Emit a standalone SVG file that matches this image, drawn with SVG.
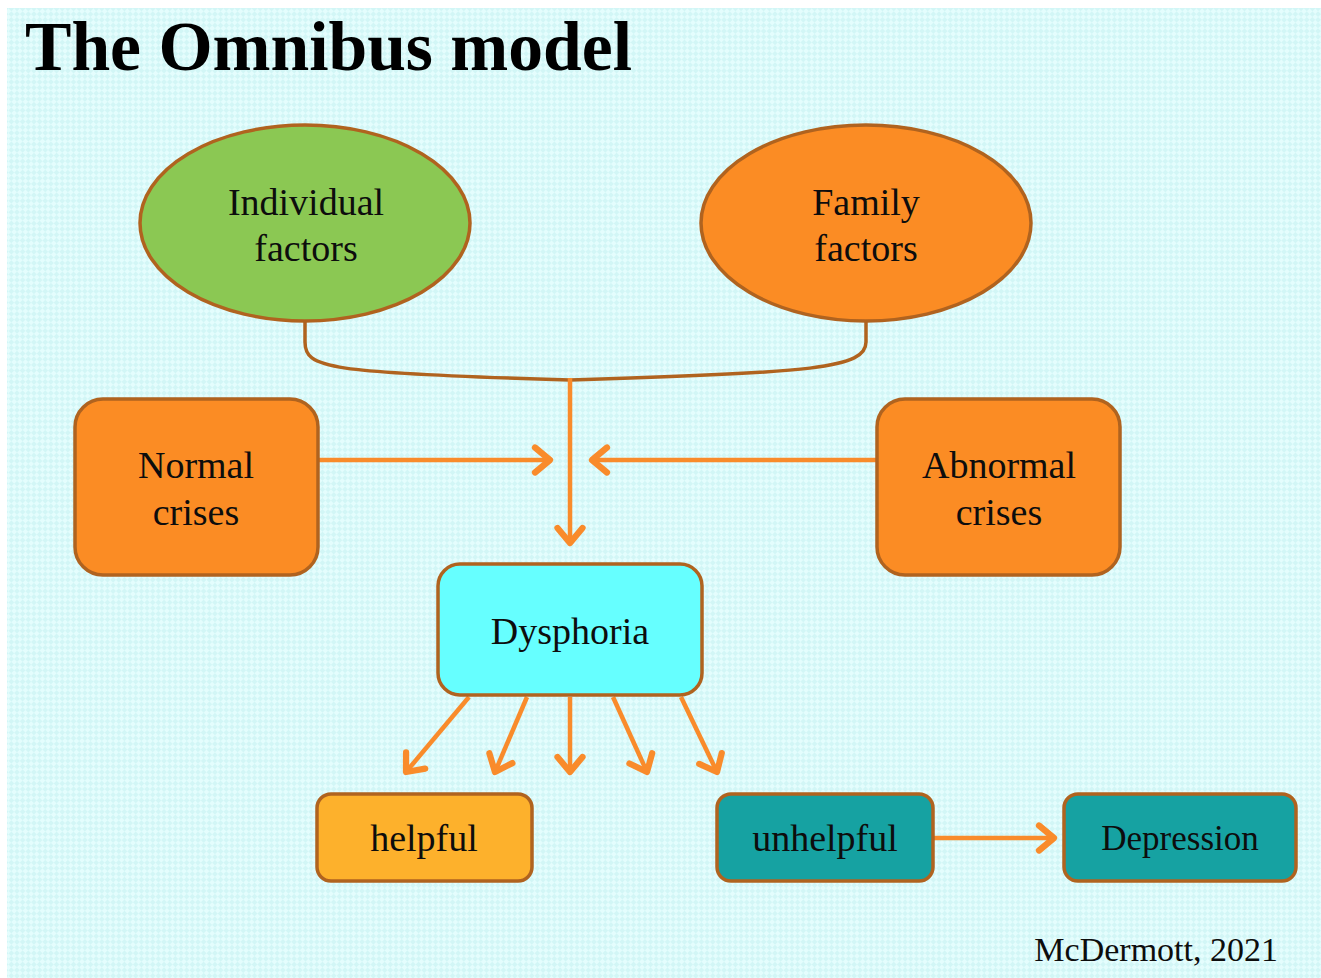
<svg xmlns="http://www.w3.org/2000/svg" width="1321" height="978" viewBox="0 0 1321 978">
  <defs>
    <pattern id="chk" width="8" height="8" patternUnits="userSpaceOnUse" patternTransform="rotate(45)">
      <rect width="8" height="8" fill="#e4fdfd"/>
      <rect width="4" height="4" fill="#d2f6f6"/>
      <rect x="4" y="4" width="4" height="4" fill="#d2f6f6"/>
    </pattern>
    <marker id="arr" markerUnits="userSpaceOnUse" markerWidth="30" markerHeight="30" refX="0" refY="0" viewBox="-16 -12 20 24" orient="auto" overflow="visible">
      <path d="M-12,-10 L0,0 L-12,10" fill="none" stroke="#f98b2b" stroke-width="5" stroke-linecap="round" stroke-linejoin="round"/>
    </marker>
    <style>
      .node { stroke: #b0631f; stroke-width: 3.5; }
      .lbl { font-family: "Liberation Serif", "Times New Roman", serif; font-size: 38px; fill: #0d0d0d; text-anchor: middle; }
      .conn { fill: none; stroke: #f98b2b; stroke-width: 4.5; marker-end: url(#arr); }
    </style>
  </defs>
  <rect width="1321" height="978" fill="#ffffff"/>
  <rect x="7" y="8" width="1314" height="970" fill="url(#chk)"/>

  <text x="25" y="70" font-family="'Liberation Serif', 'Times New Roman', serif" font-size="69" font-weight="bold" fill="#000" textLength="607" lengthAdjust="spacingAndGlyphs">The Omnibus model</text>

  <g id="connectors">
    <path d="M305,322 L305,342 C305,368 325,373 570,380 C815,373 866,368 866,342 L866,322" fill="none" stroke="#b0631f" stroke-width="3.5"/>
    <path class="conn" d="M570,378 L570,543"/>
    <path class="conn" d="M318,460 L550,460"/>
    <path class="conn" d="M877,460 L592,460"/>
    <path class="conn" d="M469,697 L406,772"/>
    <path class="conn" d="M527,697 L495,772"/>
    <path class="conn" d="M570,697 L570,772"/>
    <path class="conn" d="M613,697 L647,772"/>
    <path class="conn" d="M681,697 L717,772"/>
    <path class="conn" d="M933,838 L1054,838"/>
  </g>

  <g id="individual">
    <ellipse class="node" cx="305" cy="223" rx="165" ry="98" fill="#8bc853"/>
    <text class="lbl" x="306" y="215">Individual</text>
    <text class="lbl" x="306" y="261">factors</text>
  </g>
  <g id="family">
    <ellipse class="node" cx="866" cy="223" rx="165" ry="98" fill="#fb8c24"/>
    <text class="lbl" x="866" y="215">Family</text>
    <text class="lbl" x="866" y="261">factors</text>
  </g>
  <g id="normal">
    <rect class="node" x="75" y="399" width="243" height="176" rx="28" fill="#fb8c24"/>
    <text class="lbl" x="196" y="478">Normal</text>
    <text class="lbl" x="196" y="525">crises</text>
  </g>
  <g id="abnormal">
    <rect class="node" x="877" y="399" width="243" height="176" rx="28" fill="#fb8c24"/>
    <text class="lbl" x="999" y="478">Abnormal</text>
    <text class="lbl" x="999" y="525">crises</text>
  </g>
  <g id="dysphoria">
    <rect class="node" x="438" y="564" width="264" height="131" rx="22" fill="#66ffff"/>
    <text class="lbl" x="570" y="644">Dysphoria</text>
  </g>
  <g id="helpful">
    <rect class="node" x="317" y="794" width="215" height="87" rx="14" fill="#fdb12c"/>
    <text class="lbl" x="424" y="851">helpful</text>
  </g>
  <g id="unhelpful">
    <rect class="node" x="717" y="794" width="216" height="87" rx="14" fill="#16a2a2"/>
    <text class="lbl" x="825" y="851">unhelpful</text>
  </g>
  <g id="depression">
    <rect class="node" x="1064" y="794" width="232" height="87" rx="14" fill="#16a2a2"/>
    <text class="lbl" x="1180" y="850" style="font-size:35px">Depression</text>
  </g>

  <text x="1278" y="961" font-family="'Liberation Serif', 'Times New Roman', serif" font-size="34" fill="#0d0d0d" text-anchor="end">McDermott, 2021</text>
</svg>
